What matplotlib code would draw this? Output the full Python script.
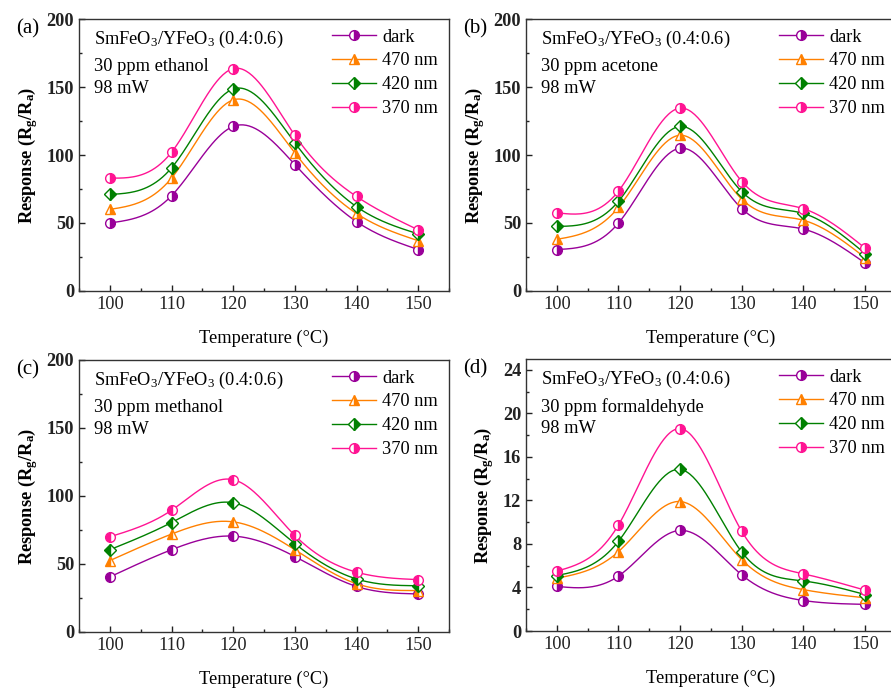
import numpy as np
import matplotlib
matplotlib.use('Agg')
import matplotlib.pyplot as plt
from matplotlib.ticker import MultipleLocator

plt.rcParams['font.family'] = ['Liberation Serif', 'DejaVu Serif']
plt.rcParams['mathtext.fontset'] = 'custom'
plt.rcParams['mathtext.rm'] = 'Liberation Serif'
plt.rcParams['mathtext.it'] = 'Liberation Serif:italic'
plt.rcParams['mathtext.bf'] = 'Liberation Serif:bold'

temps = [100, 110, 120, 130, 140, 150]
labels = ['dark', '470 nm', '420 nm', '370 nm']

# (a) ethanol
eth_dark = [50, 70, 121, 93, 51, 30.5]
eth_470 = [60, 83, 140.5, 101.5, 57, 37]
eth_420 = [71, 90.5, 148.5, 109, 62, 42]
eth_370 = [83, 102, 163.5, 114.5, 69.5, 45]

# (b) acetone
ace_dark = [30.5, 50, 105, 60.5, 45.5, 20.5]
ace_470 = [38, 61.5, 114.5, 67.5, 52, 24.5]
ace_420 = [47.5, 66, 121, 73, 57, 27.5]
ace_370 = [57.5, 73.5, 134.5, 80.5, 60.5, 31.5]

# (c) methanol
met_dark = [40.5, 60.5, 70.5, 55.5, 33.5, 28]
met_470 = [52.5, 72, 81, 60.5, 35.5, 30.5]
met_420 = [60.5, 80.5, 95, 65, 39, 34]
met_370 = [70, 89.5, 112, 71, 44, 38.5]

# (d) formaldehyde
for_dark = [4.1, 5.05, 9.25, 5.15, 2.8, 2.45]
for_470 = [4.85, 7.3, 11.9, 6.55, 3.8, 3.05]
for_420 = [5.1, 8.25, 14.85, 7.25, 4.6, 3.35]
for_370 = [5.5, 9.75, 18.6, 9.15, 5.25, 3.75]

colors = ['#990099', '#ff8000', '#008000', '#ff1493']
markers = ['o', '^', 'D', 'o']
FS = 13.2


def spline(x, y, n=200):
    # natural cubic spline through the points, for the smooth connecting line
    x = np.asarray(x, float)
    y = np.asarray(y, float)
    k = len(x)
    h = np.diff(x)
    A = np.zeros((k, k))
    b = np.zeros(k)
    A[0, 0] = A[-1, -1] = 1
    for i in range(1, k - 1):
        A[i, i - 1] = h[i - 1]
        A[i, i] = 2 * (h[i - 1] + h[i])
        A[i, i + 1] = h[i]
        b[i] = 3 * ((y[i + 1] - y[i]) / h[i] - (y[i] - y[i - 1]) / h[i - 1])
    c = np.linalg.solve(A, b)
    xs = np.linspace(x[0], x[-1], n)
    idx = np.clip(np.searchsorted(x, xs) - 1, 0, k - 2)
    dx = xs - x[idx]
    bb = (y[idx + 1] - y[idx]) / h[idx] - h[idx] * (2 * c[idx] + c[idx + 1]) / 3
    dd = (c[idx + 1] - c[idx]) / (3 * h[idx])
    ys = y[idx] + bb * dx + c[idx] * dx ** 2 + dd * dx ** 3
    return xs, ys


fig = plt.figure(figsize=(8.91, 6.89), dpi=100)
W, H = 891.0, 689.0

panels = [
    ('(a)', 'ethanol', [eth_dark, eth_470, eth_420, eth_370], (79, 19), 200, 50, 25, 'right'),
    ('(b)', 'acetone', [ace_dark, ace_470, ace_420, ace_370], (526, 19), 200, 50, 25, 'right'),
    ('(c)', 'methanol', [met_dark, met_470, met_420, met_370], (79, 360), 200, 50, 25, 'left'),
    ('(d)', 'formaldehyde', [for_dark, for_470, for_420, for_370], (526, 359), 25, 4, 2, 'right'),
]

for tag, gas, series, (px, py), ytop, ymaj, ymin, fs in panels:
    ax = fig.add_axes([px / W, 1 - (py + 272) / H, 370 / W, 272 / H])
    for vals, col, mk, lab in zip(series, colors, markers, labels):
        xs, ys = spline(temps, vals)
        ax.plot(xs, ys, '-', color=col, lw=1.0)
        ax.plot(temps, vals, linestyle='none', marker=mk, ms=7 if mk != 'D' else 6,
                color=col, fillstyle=fs, markerfacecoloralt='white', mew=1.0)
        ax.plot([], [], '-', marker=mk, color=col, lw=1.0, ms=7 if mk != 'D' else 6,
                fillstyle='right', markerfacecoloralt='white', mew=1.0, label=lab)
    ax.set_xlim(95, 155)
    ax.set_ylim(0, ytop)
    ax.xaxis.set_major_locator(MultipleLocator(10))
    ax.xaxis.set_minor_locator(MultipleLocator(5))
    ax.yaxis.set_major_locator(MultipleLocator(ymaj))
    ax.yaxis.set_minor_locator(MultipleLocator(ymin))
    if ytop == 25:
        ax.set_yticks([0, 4, 8, 12, 16, 20, 24])
    ax.tick_params(which='both', direction='in', labelsize=FS, colors='#222222')
    ax.tick_params(which='major', length=4, width=1)
    ax.tick_params(which='minor', length=2.5, width=1)
    for lbl in ax.get_yticklabels():
        lbl.set_fontweight('bold')
    for sp in ax.spines.values():
        sp.set_linewidth(1.0)
        sp.set_color('#333333')
    ax.set_xlabel('Temperature (\u00b0C)', fontsize=FS, labelpad=12)
    ax.set_ylabel(r'Response (R$_\mathbf{g}$/R$_\mathbf{a}$)', fontsize=FS,
                  fontweight='bold', labelpad=5)
    ax.text(0.04, 0.925, r'SmFeO$_3$/YFeO$_3$ (0.4:0.6)', transform=ax.transAxes,
            fontsize=FS, va='center', ha='left')
    ax.text(0.04, 0.824, '30 ppm ' + gas, transform=ax.transAxes,
            fontsize=FS, va='center', ha='left')
    ax.text(0.04, 0.743, '98 mW', transform=ax.transAxes,
            fontsize=FS, va='center', ha='left')
    ax.legend(loc='upper left', bbox_to_anchor=(0.685, 0.965), frameon=False,
              fontsize=FS, handlelength=2.4, handletextpad=0.3,
              labelspacing=0.38, borderpad=0, borderaxespad=0, numpoints=1)
    fig.text((px - 63) / W, 1 - (py + 10) / H, tag, fontsize=15, va='center', ha='left')

fig.savefig('out.png', dpi=100)
